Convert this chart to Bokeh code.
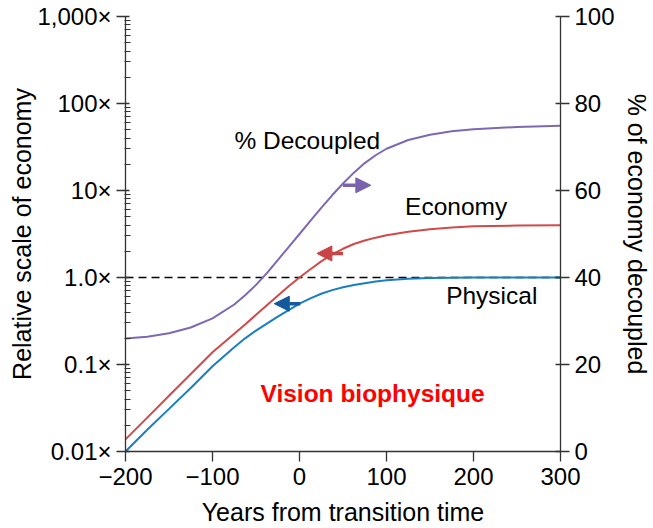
from bokeh.plotting import figure
from bokeh.models import (Range1d, LinearAxis, LinearScale, FixedTicker, Arrow, NormalHead, Label)
from bokeh.embed import file_html
from bokeh.resources import INLINE

# ---- data ----
years = [-200, -175, -150, -125, -100, -75, -62.5, -50, -37.5, -25, -12.5, 0,
         12.5, 25, 37.5, 50, 62.5, 75, 87.5, 100, 125, 150, 175, 200, 250, 300]
physical = [0.0100, 0.0178, 0.0309, 0.0537, 0.0955, 0.158, 0.200, 0.245, 0.295,
            0.355, 0.422, 0.501, 0.575, 0.650, 0.716, 0.773, 0.820, 0.861, 0.897,
            0.927, 0.966, 0.986, 0.995, 0.999, 1.0, 1.0]
economy = [0.0138, 0.0245, 0.0437, 0.0776, 0.138, 0.226, 0.288, 0.372, 0.479,
           0.617, 0.794, 1.0, 1.245, 1.531, 1.841, 2.138, 2.427, 2.661, 2.871,
           3.055, 3.350, 3.597, 3.767, 3.873, 3.954, 3.981]
decoupled = [26.0, 26.4, 27.2, 28.5, 30.6, 33.8, 35.9, 38.3, 41.0, 44.0, 47.0,
             50.0, 53.0, 56.0, 58.9, 61.6, 64.1, 66.3, 68.1, 69.6, 71.6, 72.8,
             73.6, 74.1, 74.6, 74.9]

x_ticks = [-200, -100, 0, 100, 200, 300]
x_tick_labels = ["\u2212200", "\u2212100", "0", "100", "200", "300"]
y_ticks = [0.01, 0.1, 1.0, 10, 100, 1000]
y_tick_labels = ["0.01\u00d7", "0.1\u00d7", "1.0\u00d7", "10\u00d7", "100\u00d7", "1,000\u00d7"]
pct_ticks = [0, 20, 40, 60, 80, 100]

# arrows: (x_start, x_end, y)
arrow_decoupled = (50, 82, 61.2)
arrow_economy = (50, 20, 1.89)
arrow_physical = (1, -29, 0.50)

FONT = "Liberation Sans"
PURPLE = "#7f68b3"
RED = "#d04a4a"
BLUE = "#1a7fc1"
BLUE_ARROW = "#13599b"
RED_ARROW = "#c94444"
PURPLE_ARROW = "#7a62ae"
TICK_FS = "24px"
LABEL_FS = "25px"

p = figure(width=653, height=528, output_backend="svg", toolbar_location=None,
           y_axis_type="log", x_range=Range1d(-200, 300), y_range=Range1d(0.01, 1000),
           min_border_left=125, min_border_right=92, min_border_top=16, min_border_bottom=76)
p.extra_y_ranges = {"pct": Range1d(0, 100)}
p.extra_y_scales = {"pct": LinearScale()}
p.outline_line_color = None
p.xgrid.visible = False
p.ygrid.visible = False
p.background_fill_color = "white"
p.border_fill_color = "white"

# x axis
xa = p.xaxis[0]
xa.ticker = FixedTicker(ticks=x_ticks)
xa.major_label_overrides = {t: l for t, l in zip(x_ticks, x_tick_labels)}
xa.axis_label = "Years from transition time"

# left axis
ya = p.yaxis[0]
minor = [m * 10 ** e for e in range(-2, 3) for m in range(2, 10)]
ya.ticker = FixedTicker(ticks=y_ticks, minor_ticks=minor)
ya.major_label_overrides = {t: l for t, l in zip(y_ticks, y_tick_labels)}
ya.axis_label = "Relative scale of economy"

# right axis
ra = LinearAxis(y_range_name="pct", ticker=FixedTicker(ticks=pct_ticks),
                axis_label="% of economy decoupled")
p.add_layout(ra, "right")

for ax in [xa, ya, ra]:
    ax.axis_line_color = "#333333"
    ax.axis_line_width = 1.3
    ax.major_tick_line_color = "#333333"
    ax.major_tick_line_width = 1.3
    ax.minor_tick_line_color = "#333333"
    ax.minor_tick_line_width = 1
    ax.major_label_text_font = FONT
    ax.major_label_text_font_size = TICK_FS
    ax.major_label_text_color = "black"
    ax.major_label_text_line_height = 1.0
    ax.axis_label_text_font = FONT
    ax.axis_label_text_font_size = LABEL_FS
    ax.axis_label_text_font_style = "normal"
    ax.axis_label_text_color = "black"
    ax.axis_label_text_line_height = 1.0

xa.major_tick_in = 0
xa.major_tick_out = 10
xa.minor_tick_in = 0
xa.minor_tick_out = 0
xa.major_label_standoff = 6
xa.axis_label_standoff = 10

ya.major_tick_in = 4
ya.major_tick_out = 9
ya.minor_tick_in = 5
ya.minor_tick_out = 1
ya.major_label_standoff = 5
ya.axis_label_standoff = -2

ra.major_tick_in = 5
ra.major_tick_out = 9
ra.minor_tick_in = 0
ra.minor_tick_out = 0
ra.major_label_standoff = 5
ra.axis_label_standoff = 5

# dashed reference line at 1.0
p.line([years[0], years[-1]], [1.0, 1.0], line_color="black", line_width=1.6, line_dash="8 5")

# curves
p.line(years, decoupled, y_range_name="pct", line_color=PURPLE, line_width=2, line_join="round")
p.line(years, economy, line_color=RED, line_width=2, line_join="round")
p.line(years, physical, line_color=BLUE, line_width=2, line_join="round")

# arrows
p.add_layout(Arrow(end=NormalHead(size=15, fill_color=PURPLE_ARROW, line_color=PURPLE_ARROW),
                   x_start=arrow_decoupled[0], x_end=arrow_decoupled[1],
                   y_start=arrow_decoupled[2], y_end=arrow_decoupled[2],
                   y_range_name="pct", line_color=PURPLE_ARROW, line_width=3.5))
p.add_layout(Arrow(end=NormalHead(size=15, fill_color=RED_ARROW, line_color=RED_ARROW),
                   x_start=arrow_economy[0], x_end=arrow_economy[1],
                   y_start=arrow_economy[2], y_end=arrow_economy[2],
                   line_color=RED_ARROW, line_width=3.5))
p.add_layout(Arrow(end=NormalHead(size=15, fill_color=BLUE_ARROW, line_color=BLUE_ARROW),
                   x_start=arrow_physical[0], x_end=arrow_physical[1],
                   y_start=arrow_physical[2], y_end=arrow_physical[2],
                   line_color=BLUE_ARROW, line_width=3.5))

# labels
def add_label(x, y, text, color="black", style="normal", size="24.5px"):
    p.add_layout(Label(x=x, y=y, text=text, text_font=FONT, text_font_size=size,
                       text_color=color, text_font_style=style,
                       text_align="center", text_baseline="middle"))

add_label(9, 37.6, "% Decoupled")
add_label(180, 6.55, "Economy")
add_label(221, 0.62, "Physical")
add_label(84, 0.0464, "Vision biophysique", color="#ff0000", style="bold")

open("out.html", "w").write(file_html(p, INLINE))
